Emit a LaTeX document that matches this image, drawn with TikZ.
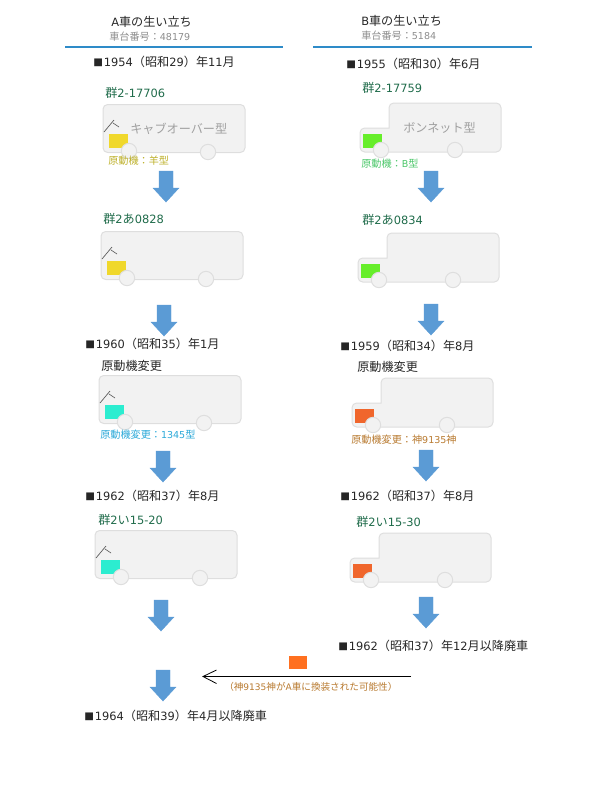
\documentclass[tikz,border=0pt]{standalone}
\usepackage{fontspec}
\setmainfont{Noto Sans CJK JP}
\newfontfamily\latfam[Scale=0.94]{DejaVu Sans}
\newcommand\lat[1]{{\latfam #1}}
\newcommand\blk{{\scalebox{0.8}{■}\hspace{0.08em}}}
\tikzset{
  txt/.style={anchor=west,inner sep=0pt,text=#1,font=\fontsize{9.1}{11}\selectfont},
  txt/.default=black!85,
  small/.style={anchor=west,inner sep=0pt,text=#1,font=\fontsize{7.6}{10}\selectfont},
  tiny/.style={anchor=west,inner sep=0pt,text=#1,font=\fontsize{7.2}{10}\selectfont},
  body/.style={fill=bodyfill,draw=bodyline,line width=0.75pt,rounded corners=3.5pt},
  wheel/.style={circle,fill=bodyfill,draw=bodyline,line width=0.75pt,minimum size=11.5pt,inner sep=0pt},
  engine/.style={rectangle,fill=#1,draw=none,minimum width=14.25pt,minimum height=10.5pt,inner sep=0pt},
  blockarrow/.style={fill=arrowblue,draw=arrowedge,line width=0.3pt},
  rule/.style={draw=rulecol,line width=1.5pt},
  glass/.style={draw=black!65,line width=0.5pt},
}
\definecolor{bodyfill}{HTML}{F2F2F2}
\definecolor{bodyline}{HTML}{DEDEDE}
\definecolor{arrowblue}{HTML}{5B9BD5}
\definecolor{arrowedge}{HTML}{5B9BD5}
\definecolor{rulecol}{HTML}{2E8BC8}
\definecolor{plate}{HTML}{1F6B4A}
\definecolor{greytext}{HTML}{8C8C8C}
\definecolor{labeltext}{HTML}{A0A0A0}
\definecolor{olive}{HTML}{BDB02A}
\definecolor{bgreen}{HTML}{4CC76A}
\definecolor{cyanlab}{HTML}{2AA8D8}
\definecolor{brownlab}{HTML}{B87A30}
\definecolor{yellowE}{HTML}{F0D82C}
\definecolor{greenE}{HTML}{66EE2A}
\definecolor{tealE}{HTML}{2CEDD0}
\definecolor{orangeE}{HTML}{F0662C}
\definecolor{orangeF}{HTML}{FF7020}
% cab-over bus: name, x, y, engine colour
\newcommand\cabover[4]{%
  \draw[body] (#2,#3-0.5) rectangle ++(142,48);
  \draw[glass] (#2+1,#3+27) -- (#2+11,#3+15);
  \draw[glass] (#2+10,#3+18) -- (#2+16,#3+22);
  \node[engine=#4,anchor=north west] (#1e) at (#2+6,#3+29) {};
  \node[wheel] (#1a) at (#2+26,#3+46) {};
  \node[wheel] (#1b) at (#2+105,#3+47) {};
}
% bonnet bus: name, x, y, engine colour
\newcommand\bonnet[4]{%
  \draw[body] (#2+80,#3) -- (#2+141,#3) -- (#2+141,#3+49) -- (#2,#3+49) -- (#2,#3+25) [sharp corners] -- (#2+29,#3+25) [rounded corners=3.5pt] -- (#2+29,#3) -- cycle;
  \node[engine=#4,anchor=north west] (#1e) at (#2+3,#3+31) {};
  \node[wheel] (#1a) at (#2+21,#3+47) {};
  \node[wheel] (#1b) at (#2+95,#3+47) {};
}
% block arrow: centre x, top y
\newcommand\blockdown[2]{%
  \fill[blockarrow] (#1-7,#2) -- (#1+7,#2) -- (#1+7,#2+17) -- (#1+13,#2+17) -- (#1,#2+31) -- (#1-13,#2+17) -- (#1-7,#2+17) -- cycle;
}
\begin{document}
\begin{tikzpicture}[x=0.75pt,y=-0.75pt]
\useasboundingbox (0,0) rectangle (600,800);
% titles
\node[txt] (ta) at (111,22) {\lat{A}車の生い立ち};
\node[small=greytext] (sa) at (109,37) {車台番号：\lat{48179}};
\coordinate (ra1) at (65,46.5); \coordinate (ra2) at (283,46.5);
\draw[rule] (ra1) -- (ra2);
\node[txt] (tb) at (361,21) {\lat{B}車の生い立ち};
\node[small=greytext] (sb) at (361,36) {車台番号：\lat{5184}};
\coordinate (rb1) at (313,46.5); \coordinate (rb2) at (532,46.5);
\draw[rule] (rb1) -- (rb2);
% column A
\node[txt] (a1) at (93,62) {\blk\lat{1954}（昭和\lat{29}）年\lat{11}月};
\node[txt=plate] (ap1) at (105,93) {群\lat{2-17706}};
\cabover{ba1}{103}{105}{yellowE}
\node[txt=labeltext] (al1) at (130,129) {キャブオーバー型};
\node[small=olive] (am1) at (108,161) {原動機：羊型};
\blockdown{166}{171}
\node[txt=plate] (ap2) at (103,219) {群\lat{2}あ\lat{0828}};
\cabover{ba2}{101}{232}{yellowE}
\blockdown{164}{305}
\node[txt] (a2) at (85,344) {\blk\lat{1960}（昭和\lat{35}）年\lat{1}月};
\node[txt] (ac1) at (101,366) {原動機変更};
\cabover{ba3}{99}{376}{tealE}
\node[small=cyanlab] (am2) at (100,435) {原動機変更：\lat{1345}型};
\blockdown{163}{451}
\node[txt] (a3) at (85,496) {\blk\lat{1962}（昭和\lat{37}）年\lat{8}月};
\node[txt=plate] (ap3) at (98,520) {群\lat{2}い\lat{15-20}};
\cabover{ba4}{95}{531}{tealE}
\blockdown{161}{600}
\blockdown{163}{670}
\node[txt] (a4) at (84,716) {\blk\lat{1964}（昭和\lat{39}）年\lat{4}月以降廃車};
% column B
\node[txt] (b1) at (346,64) {\blk\lat{1955}（昭和\lat{30}）年\lat{6}月};
\node[txt=plate] (bp1) at (362,88) {群\lat{2-17759}};
\bonnet{bb1}{360}{103}{greenE}
\node[txt=labeltext] (bl1) at (403,128) {ボンネット型};
\node[small=bgreen] (bm1) at (361,164) {原動機：\lat{B}型};
\blockdown{431}{171}
\node[txt=plate] (bp2) at (362,220) {群\lat{2}あ\lat{0834}};
\bonnet{bb2}{358}{233}{greenE}
\blockdown{431}{304}
\node[txt] (b2) at (340,346) {\blk\lat{1959}（昭和\lat{34}）年\lat{8}月};
\node[txt] (bc1) at (357,367) {原動機変更};
\bonnet{bb3}{352}{378}{orangeE}
\node[small=brownlab] (bm2) at (351,440) {原動機変更：神\lat{9135}神};
\blockdown{426}{450}
\node[txt] (b3) at (340,496) {\blk\lat{1962}（昭和\lat{37}）年\lat{8}月};
\node[txt=plate] (bp3) at (356,522) {群\lat{2}い\lat{15-30}};
\bonnet{bb4}{350}{533}{orangeE}
\blockdown{426}{597}
\node[txt] (b4) at (338,646) {\blk\lat{1962}（昭和\lat{37}）年\lat{12}月以降廃車};
% transfer
\node[rectangle,fill=orangeF,minimum width=13.5pt,minimum height=9.75pt,inner sep=0pt,anchor=north west] (swap) at (289,656) {};
\coordinate (from) at (411,676.5);
\coordinate (to) at (203,676.5);
\draw[line width=0.75pt] (from) -- (to);
\draw[line width=0.6pt] (216.5,670) -- (to) -- (216.5,683.5);
\node[tiny=brownlab] (note) at (224,687) {（神\lat{9135}神が\lat{A}車に換装された可能性）};
\end{tikzpicture}
\end{document}
